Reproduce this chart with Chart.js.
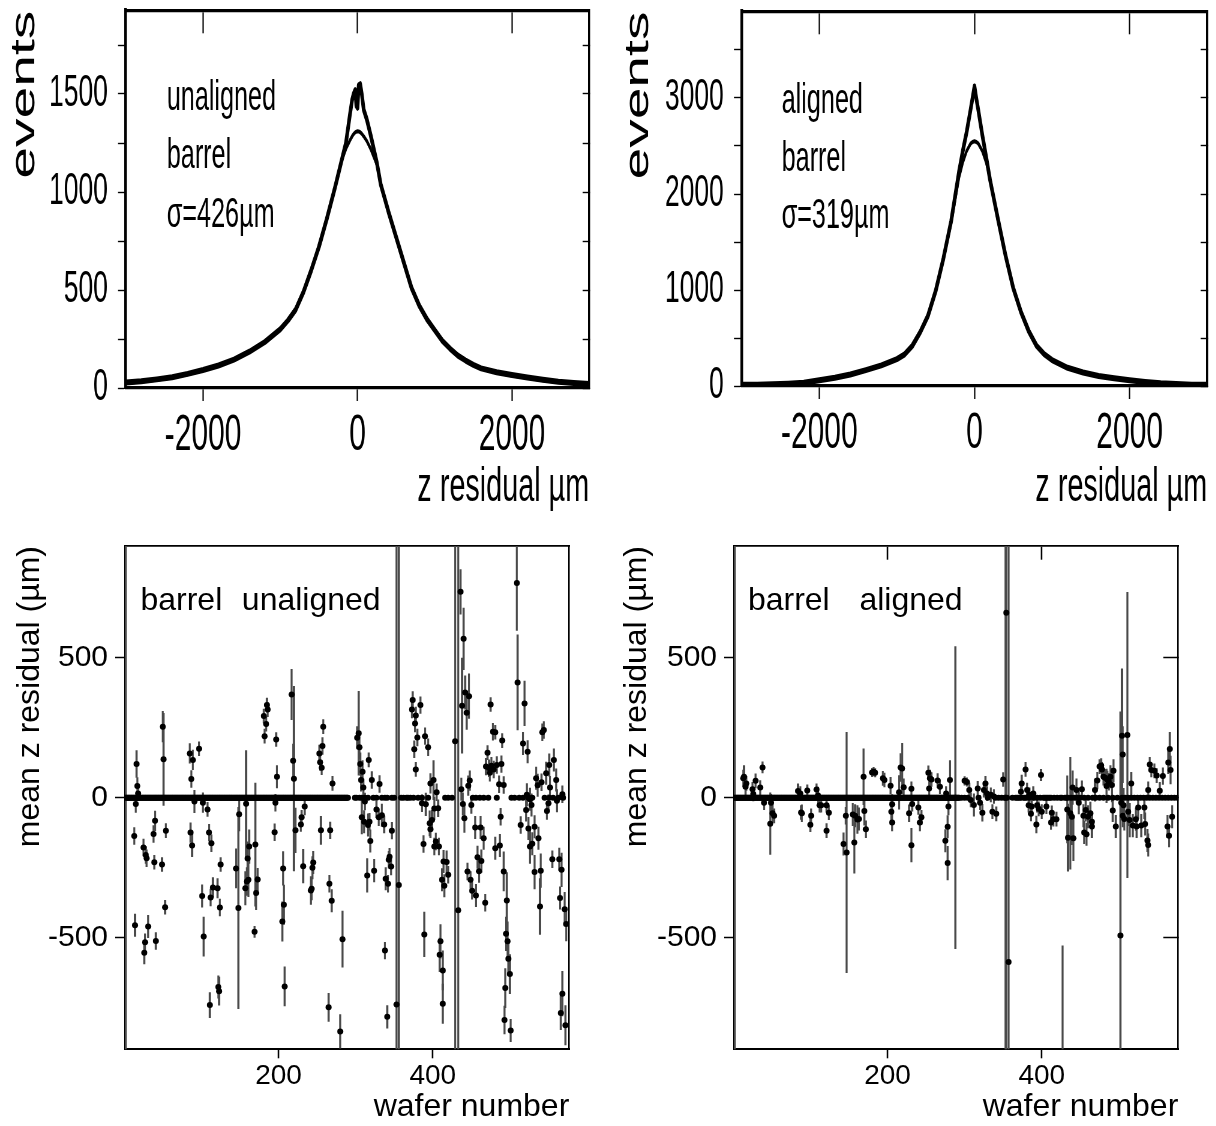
<!DOCTYPE html>
<html>
<head>
<meta charset="utf-8">
<title>z residuals, barrel wafers</title>
<script src="https://cdn.jsdelivr.net/npm/chart.js@4.4.1/dist/chart.umd.min.js"></script>
<style>
  html, body { margin: 0; padding: 0; background: #fff; overflow: hidden; }
  .panel { position: absolute; }
  /* the top histograms are squeezed sideways in the original figure */
  .narrow { transform: scaleX(0.6); transform-origin: 0 0; }
</style>
</head>
<body>
<div class="panel narrow" style="left:0;top:0;width:1000px;height:520px"><canvas id="histUnaligned"></canvas></div>
<div class="panel narrow" style="left:600px;top:0;width:1027px;height:520px"><canvas id="histAligned"></canvas></div>
<div class="panel" style="left:0;top:520px;width:600px;height:606px"><canvas id="wafersUnaligned"></canvas></div>
<div class="panel" style="left:600px;top:520px;width:616px;height:606px"><canvas id="wafersAligned"></canvas></div>
<script>
// ---------- top row: z residual distributions ----------
const unalignedZ = [-3000, -2800, -2600, -2400, -2200, -2000, -1800, -1600, -1400, -1200,
  -1000, -900, -800, -700, -600, -500, -400, -300, -200, -150,
  -100, -70, -50, -30, -15, 0, 15, 35, 55, 80,
  120, 170, 250, 300, 400, 500, 600, 700, 800, 900,
  1000, 1100, 1200, 1300, 1400, 1500, 1600, 1800, 2000, 2200,
  2400, 2600, 2800, 3000];
const unalignedEvents = [28, 34, 44, 55, 72, 92, 115, 145, 185, 235,
  300, 345, 400, 490, 600, 720, 860, 1010, 1170, 1250,
  1390, 1470, 1500, 1520, 1440, 1430, 1545, 1550, 1500, 1420,
  1370, 1290, 1150, 1040, 900, 770, 640, 510, 420, 350,
  295, 240, 200, 165, 140, 118, 100, 80, 66, 54,
  42, 32, 25, 20];
const unalignedFit = [26, 33, 42, 54, 70, 90, 115, 145, 185, 235,
  300, 348, 405, 495, 605, 725, 865, 1010, 1165, 1220,
  1262, 1284, 1296, 1304, 1308, 1310, 1309, 1305, 1297, 1284,
  1260, 1220, 1140, 1040, 895, 765, 635, 510, 420, 352,
  298, 244, 203, 168, 140, 117, 100, 79, 64, 52,
  40, 31, 24, 20];

const alignedZ = [-3000, -2800, -2600, -2400, -2200, -2000, -1800, -1600, -1400, -1200,
  -1000, -900, -800, -700, -600, -500, -400, -300, -200, -150,
  -100, -50, -25, 0, 25, 50, 100, 150, 200, 300,
  400, 500, 600, 700, 800, 900, 1000, 1200, 1400, 1600,
  1800, 2000, 2200, 2400, 2600, 2800, 3000];
const alignedEvents = [12, 14, 18, 24, 34, 60, 85, 120, 165, 215,
  280, 330, 420, 560, 730, 990, 1330, 1720, 2230, 2450,
  2650, 2880, 3000, 3120, 2990, 2870, 2620, 2390, 2150, 1750,
  1360, 1020, 770, 570, 420, 330, 270, 190, 140, 105,
  80, 60, 42, 28, 20, 14, 12];
const alignedFit = [12, 14, 18, 24, 34, 58, 83, 118, 163, 213,
  280, 335, 425, 565, 735, 990, 1320, 1700, 2170, 2330,
  2450, 2525, 2542, 2550, 2542, 2525, 2450, 2330, 2170, 1730,
  1350, 1015, 765, 568, 420, 330, 268, 190, 138, 104,
  79, 59, 42, 28, 20, 14, 12];

const residualTicks = [-2000, 0, 2000];
const unalignedEventTicks = [0, 250, 500, 750, 1000, 1250, 1500, 1750];
const unalignedEventLabels = [0, 500, 1000, 1500];
const alignedEventTicks = [0, 500, 1000, 1500, 2000, 2500, 3000, 3500];
const alignedEventLabels = [0, 1000, 2000, 3000];

// ---------- bottom row: mean z residual per wafer ----------
const waferU = [16, 17, 18, 15, 50, 51, 40, 85, 89, 97, 87, 91, 102, 108,
  181, 184, 185, 186, 182, 197, 198, 196, 217, 219, 220, 253, 254, 256,
  258, 257, 270, 302, 304, 305, 306, 309, 307, 317, 310, 321, 331, 312,
  327, 330, 334, 337, 308, 311, 316, 318, 2, 353, 356, 429, 433,
  374, 373, 377, 378, 384, 380, 376, 378, 390, 394, 397, 401, 405, 402,
  399, 407, 386, 391, 396, 436, 440, 438, 442, 444, 447, 446, 448, 437,
  439, 441, 450, 475, 478, 481, 490, 471, 469, 473, 474, 476, 479, 483,
  489, 486, 492, 488, 509, 510, 519, 517, 523, 522, 514, 521, 526, 528,
  534, 536, 541, 544, 542, 551, 557, 547, 552, 560, 550, 561, 568, 548,
  524, 532, 13, 14, 25, 28, 29, 38, 39, 49, 54, 53, 26, 27,
  31, 41, 86, 88, 101, 103, 110, 113, 112, 115, 121, 124, 125, 122,
  123, 111, 145, 148, 149, 160, 162, 157, 159, 161, 169, 170, 171, 173,
  195, 206, 207, 205, 208, 222, 229, 230, 232, 245, 244, 242, 243, 255,
  267, 266, 269, 265, 283, 280, 319, 315, 324, 339, 342, 344, 346, 347,
  343, 338, 341, 388, 389, 402, 404, 408, 397, 414, 418, 412, 415, 420,
  410, 409, 413, 413, 463, 445, 449, 451, 456, 455, 462, 466, 458, 460,
  468, 481, 487, 492, 496, 495, 497, 498, 500, 494, 493, 501, 526, 537,
  529, 532, 539, 540, 555, 564, 567, 565, 571, 573, 568, 566, 572,
  234, 158];
const meanU = [120, 42, 15, -23, 254, 137, -83, 158, 135, 175, 67, -14, -18, -42,
  292, 263, 331, 315, 220, 208, 75, -18, 369, 132, 68, 158, 127, 107,
  254, 185, 51, 214, 230, 180, 120, 93, 63, 135, 36, 63, 49, -14,
  -42, -70, -63, -96, -70, -86, -98, -86, 0, -740, -312, 202, -403,
  349, 315, 265, 294, 331, 215, 173, 101, 220, 180, 51, 63, 19, -39,
  -80, -38, -20, -24, -92, 736, 568, 329, 376, 304, 363, 43, 61, 30,
  -23, -74, -26, 333, 236, 234, 204, 161, 111, 105, 89, 114, 101, 117,
  120, 48, 45, -68, 768, 412, 337, 194, 164, 10, -98, -44, -6, -26,
  69, 44, 55, 242, 234, 117, 135, 87, 36, 63, -20, -11, 12, -48,
  -110, -104, -137, -456, -178, -205, -217, -130, -231, -239, -118, -392, -555, -517,
  -461, -513, -125, -171, -352, -497, -125, -163, -357, -321, -324, -393, -239, -677,
  -692, -742, -253, -395, -59, -218, -175, -324, -300, -294, -480, -168, -341, -293,
  -124, -253, -383, -443, -675, -117, -96, -70, -245, -232, -251, -332, -326, -117,
  -117, -308, -369, -750, -506, -836, -155, -278, -261, -290, -308, -211, -246, -118,
  -222, -547, -784, -166, -489, -175, -157, -175, -113, -228, -230, -294, -315, -276,
  -514, -562, -618, -737, -227, -264, -294, -333, -350, -107, -107, -145, -213, -263,
  -376, -181, -171, -264, -368, -487, -514, -576, -631, -681, -795, -833, -175, -145,
  -165, -266, -389, -261, -220, -220, -258, -359, -399, -452, -701, -770, -814,
  -32, -22];
const errU = [48, 30, 25, 30, 55, 165, 35, 35, 35, 25, 30, 40, 35, 25,
  25, 25, 25, 25, 25, 25, 40, 30, 90, 60, 330, 30, 30, 25,
  25, 30, 25, 40, 150, 40, 40, 40, 40, 25, 30, 30, 30, 30,
  30, 30, 40, 30, 60, 40, 40, 30, 2000, 2000, 2000, 2000, 2000,
  30, 30, 30, 30, 30, 30, 30, 25, 30, 30, 35, 70, 30, 40,
  35, 30, 30, 40, 45, 80, 110, 170, 60, 60, 80, 35, 35, 40,
  40, 50, 30, 25, 30, 25, 25, 25, 30, 30, 30, 30, 30, 30,
  30, 30, 30, 30, 170, 170, 80, 40, 40, 40, 30, 40, 40, 40,
  40, 40, 30, 30, 30, 40, 40, 40, 40, 40, 30, 40, 30, 30,
  40, 40, 30, 40, 30, 30, 30, 30, 25, 25, 25, 25, 40, 30,
  40, 30, 35, 40, 40, 70, 30, 30, 30, 35, 35, 30, 25, 40,
  50, 45, 70, 360, 60, 60, 60, 60, 50, 60, 20, 220, 60, 40,
  30, 60, 70, 70, 70, 80, 25, 25, 60, 40, 40, 50, 40, 50,
  30, 30, 40, 50, 100, 60, 40, 60, 40, 40, 30, 30, 30, 30,
  30, 30, 40, 30, 80, 30, 30, 30, 30, 40, 40, 40, 40, 30,
  60, 60, 70, 70, 40, 30, 30, 30, 40, 40, 40, 40, 40, 40,
  30, 40, 40, 70, 100, 60, 70, 60, 70, 70, 50, 40, 60, 40,
  40, 60, 100, 60, 30, 40, 60, 40, 60, 60, 80, 60, 70,
  30, 190];
// wafers sitting on the zero line (no entries): continuous runs and isolated ones
const zeroRunsU = [[3, 290]];
const zeroDotsU = [299, 301, 305, 308, 312, 316, 323, 327, 334, 338, 341, 347, 350, 359, 362, 366, 368, 371,
  375, 381, 386, 394, 416, 420, 425, 452, 456, 461, 466, 472, 483, 502, 506, 512, 517, 524, 529,
  545, 551, 556, 563, 569];

const waferA = [13, 14, 16, 17, 25, 26, 29, 35, 38, 40, 49, 51, 53, 48,
  84, 87, 96, 89, 100, 108, 110, 112, 114, 121, 124, 146, 155, 158,
  161, 169, 170, 180, 182, 184, 194, 196, 204, 206, 205, 217, 219, 215,
  221, 231, 232, 228, 240, 244, 242, 253, 255, 254, 257, 265, 268, 276,
  281, 279, 300, 303, 306, 308, 312, 317, 320, 323, 327, 325, 329, 334,
  338, 336, 341, 350, 354, 357, 379, 374, 373, 381, 384, 389, 383, 387,
  399, 394, 396, 406, 413, 415, 386, 393, 440, 433, 437, 439, 445, 452,
  448, 454, 457, 460, 463, 465, 469, 472, 475, 477, 478, 480, 482, 484,
  485, 487, 491, 493, 489, 492, 503, 505, 504, 511, 506, 516, 512, 514,
  522, 525, 533, 538, 540, 542, 546, 549, 553, 557, 564, 566, 567, 278,
  275, 278, 231, 206, 172, 157, 163, 143, 147, 121, 101, 88,
  400, 412, 419, 434, 441, 455, 458, 465, 496, 505, 507, 518, 523, 529,
  534, 537, 538, 563, 565, 569, 288, 502, 427, 2, 353];
const meanA = [69, 75, 39, 51, 30, 13, 60, 36, 108, -18, -18, -56, -65, -93,
  24, 15, 26, -56, -97, 29, 8, -27, -27, -27, -54, -65, -60, -65,
  -78, 75, -48, 90, 93, 89, 69, 63, 43, -24, -50, 108, 104, 19,
  37, 32, -23, -56, -35, -70, -89, 89, 69, 33, 65, 61, 39, 15,
  63, -32, 60, 56, 27, -8, -26, 33, -18, -54, 51, 27, 15, 10,
  4, -50, -58, 65, 661, -588, 101, 51, 21, 27, 10, 15, -27, -32,
  81, -27, -40, -32, -54, -77, -58, -96, 36, -42, -56, -68, 27, 30,
  -18, -65, -44, -68, -56, -86, 27, 61, 111, 115, 101, 75, 71, 42,
  65, 57, 45, 96, 75, -46, -18, 154, 221, 224, -27, 51, -50, -80,
  -77, -35, -35, 27, 119, 99, 96, 79, 25, 77, 126, 174, 99, -234,
  -154, -104, -170, -89, -113, -160, -76, -166, -196, -118, -65, -53,
  -50, -89, -77, -143, -145, -125, -131, -103, -103, -65, -76, -100, -103, -100,
  -94, -153, -169, -103, -136, -68, 0, -493, -1200, 0, 0];
const errA = [30, 40, 30, 25, 25, 25, 25, 25, 20, 25, 30, 30, 25, 110,
  25, 25, 20, 30, 25, 20, 30, 25, 25, 25, 25, 30, 40, 40,
  50, 100, 50, 15, 15, 15, 25, 25, 30, 35, 35, 50, 90, 60,
  30, 25, 25, 30, 25, 25, 30, 25, 30, 30, 25, 25, 25, 25,
  70, 30, 15, 15, 25, 25, 40, 25, 25, 30, 25, 25, 25, 25,
  25, 25, 25, 25, 2000, 2000, 25, 30, 30, 25, 25, 25, 25, 25,
  20, 25, 25, 25, 25, 25, 25, 30, 60, 120, 200, 100, 40, 30,
  40, 40, 40, 40, 40, 30, 40, 30, 25, 25, 25, 30, 30, 60,
  30, 30, 60, 40, 40, 40, 60, 100, 240, 510, 60, 40, 50, 60,
  40, 40, 40, 30, 25, 25, 25, 25, 30, 30, 40, 60, 50, 60,
  40, 40, 60, 30, 30, 110, 40, 40, 430, 25, 25, 25,
  25, 25, 25, 120, 80, 40, 40, 40, 40, 40, 40, 40, 40, 40,
  40, 40, 40, 40, 40, 40, 540, 800, 670, 2000, 2000];
const zeroRunsA = [[3, 293]];
const zeroDotsA = [296, 300, 304, 318, 330, 340, 344, 348, 352, 355, 362, 366, 368, 370, 372, 376, 378, 380,
  384, 390, 394, 398, 402, 404, 406, 408, 410, 412, 416, 420, 424, 426, 430, 432, 434, 438, 442, 446,
  450, 455, 460, 466, 470, 475, 480, 486, 492, 498, 504, 508, 512, 516, 520, 524, 528, 532, 536, 540,
  544, 548, 552, 556, 560, 564, 568, 572, 576];

const waferTicks = [200, 400];
const meanTicks = [-500, 0, 500];

const FAMILY = '"Liberation Sans", Arial, Helvetica, sans-serif';
Chart.defaults.color = "#000";
Chart.defaults.font.family = FAMILY;

// small plugin that writes the panel captions at data positions
function captions(items, size) {
  return {
    id: "captions",
    afterDatasetsDraw(chart) {
      const ctx = chart.ctx;
      ctx.save();
      ctx.font = size + "px " + FAMILY;
      ctx.fillStyle = "#000";
      ctx.textAlign = "left";
      ctx.textBaseline = "alphabetic";
      items.forEach((it) => {
        ctx.fillText(it.text, chart.scales.x.getPixelForValue(it.x), chart.scales.y.getPixelForValue(it.y));
      });
      ctx.restore();
    },
  };
}

function tickList(values) {
  return (scale) => { scale.ticks = values.map((v) => ({ value: v })); };
}

// pin an axis box to a fixed size and stop label overhang from moving the plot area
function pinSize(key, size) {
  return (s) => {
    s[key] = size;
    s.paddingTop = 0; s.paddingBottom = 0; s.paddingLeft = 0; s.paddingRight = 0;
  };
}

// top row histogram with its fit
function histChart(id, zs, events, fit, yMax, yTicks, yLabels, g, texts) {
  return new Chart(document.getElementById(id), {
    type: "line",
    data: {
      datasets: [
        { data: zs.map((z, i) => ({ x: z, y: events[i] })), borderColor: "#000", borderWidth: 6, pointRadius: 0, borderJoinStyle: "round" },
        { data: zs.map((z, i) => ({ x: z, y: fit[i] })), borderColor: "#000", borderWidth: 4, pointRadius: 0, borderJoinStyle: "round" },
      ],
    },
    options: {
      responsive: true,
      maintainAspectRatio: false,
      animation: false,
      events: [],
      layout: { padding: { left: 0, right: g.right, top: g.top, bottom: 0 } },
      plugins: { legend: { display: false }, tooltip: { enabled: false } },
      scales: {
        x: {
          type: "linear", min: -3000, max: 3000,
          afterBuildTicks: tickList(residualTicks),
          afterFit: pinSize("height", g.xHeight),
          ticks: { autoSkip: false, maxRotation: 0, padding: 5, font: { size: 50 }, callback: (v) => String(v) },
          grid: { drawOnChartArea: false, tickLength: 13, tickColor: "#000", tickWidth: 2.2 },
          border: { color: "#000", width: 3.3 },
          title: { display: true, text: "z residual µm", align: "end", font: { size: 48 }, padding: { top: 0, bottom: 3 } },
        },
        // frame along the top, pinned to the top of the y range so its ticks point down into the plot
        xTop: {
          type: "linear", axis: "x", position: { y: yMax }, min: -3000, max: 3000,
          afterBuildTicks: tickList(residualTicks),
          afterFit: pinSize("height", 0),
          ticks: { display: false },
          grid: { drawOnChartArea: false, tickLength: 21, tickColor: "#000", tickWidth: 2.2 },
          border: { color: "#000", width: 3.3 },
        },
        y: {
          type: "linear", min: 0, max: yMax,
          afterBuildTicks: tickList(yTicks),
          afterFit: pinSize("width", g.yWidth),
          ticks: { autoSkip: false, padding: 17, font: { size: 44 }, callback: (v) => (yLabels.includes(v) ? String(v) : "") },
          grid: { drawOnChartArea: false, tickLength: 13, tickColor: "#000", tickWidth: 1.4 },
          border: { color: "#000", width: 4.5 },
          title: { display: true, text: "events", align: "end", font: { size: 57 }, padding: { top: g.titlePad, bottom: 0 } },
        },
        yRight: {
          type: "linear", position: "right", min: 0, max: yMax,
          afterBuildTicks: tickList(yTicks),
          afterFit: pinSize("width", 0),
          ticks: { display: false },
          grid: { drawOnChartArea: false, tickLength: -11, tickColor: "#000", tickWidth: 1.4 },
          border: { color: "#000", width: 3.5 },
        },
      },
    },
    plugins: [captions(texts, 42)],
  });
}

// bottom row: mean residual per wafer with error bars
function waferChart(id, wafers, means, errs, runs, dots, g, texts) {
  const zeros = [];
  runs.forEach(([a, b]) => { for (let w = a; w <= b; w++) zeros.push({ x: w, y: 0 }); });
  dots.forEach((w) => zeros.push({ x: w, y: 0 }));
  const tickW = g.mirror ? 1.5 : 0;
  return new Chart(document.getElementById(id), {
    type: "scatter",
    data: {
      datasets: [
        {
          type: "bar",
          data: wafers.map((w, i) => ({ x: w, y: [means[i] - errs[i], means[i] + errs[i]] })),
          backgroundColor: "#4a4a4a", barThickness: 1.4, grouped: false, clip: 0, order: 3,
        },
        { data: zeros, pointRadius: 3, pointBorderWidth: 0, backgroundColor: "#000", clip: 0, order: 2 },
        { data: wafers.map((w, i) => ({ x: w, y: means[i] })), pointRadius: 3, pointBorderWidth: 0, backgroundColor: "#000", clip: 0, order: 1 },
      ],
    },
    options: {
      responsive: true,
      maintainAspectRatio: false,
      animation: false,
      events: [],
      layout: { padding: { left: 0, right: g.right, top: 26, bottom: 0 } },
      plugins: { legend: { display: false }, tooltip: { enabled: false } },
      scales: {
        x: {
          type: "linear", min: 1, max: 577, offset: false,
          afterBuildTicks: tickList(waferTicks),
          afterFit: pinSize("height", 76.7),
          ticks: { autoSkip: false, maxRotation: 0, padding: 1.6, font: { size: 28 }, callback: (v) => String(v) },
          grid: { drawOnChartArea: false, offset: false, tickLength: 9, tickColor: "#000", tickWidth: 1.5 },
          border: { color: "#000", width: 2 },
          title: { display: true, text: "wafer number", align: "end", font: { size: 32 }, padding: { top: 0, bottom: 0 } },
        },
        xTop: {
          type: "linear", axis: "x", position: { y: 900 }, min: 1, max: 577, offset: false,
          afterBuildTicks: tickList(waferTicks),
          afterFit: pinSize("height", 0),
          ticks: { display: false },
          grid: { drawOnChartArea: false, offset: false, drawTicks: g.mirror, tickLength: 13, tickColor: "#000", tickWidth: tickW },
          border: { color: "#000", width: 1.7 },
        },
        y: {
          type: "linear", min: -900, max: 900,
          afterBuildTicks: tickList(meanTicks),
          afterFit: pinSize("width", g.yWidth),
          ticks: { autoSkip: false, padding: 7, font: { size: 30 }, callback: (v) => String(v) },
          grid: { drawOnChartArea: false, tickLength: 10, tickColor: "#000", tickWidth: 1.5 },
          border: { color: "#000", width: 2 },
          title: { display: true, text: "mean z residual (µm)", align: "end", font: { size: 32 }, padding: { top: g.titlePad, bottom: 0 } },
        },
        yRight: {
          type: "linear", position: "right", min: -900, max: 900,
          afterBuildTicks: tickList(meanTicks),
          afterFit: pinSize("width", 0),
          ticks: { display: false },
          grid: { drawOnChartArea: false, drawTicks: g.mirror, tickLength: -15, tickColor: "#000", tickWidth: tickW },
          border: { color: "#000", width: 1.7 },
        },
      },
    },
    plugins: [captions(texts, 32)],
  });
}

histChart("histUnaligned", unalignedZ, unalignedEvents, unalignedFit, 1925,
  unalignedEventTicks, unalignedEventLabels,
  { yWidth: 209.7, right: 18, top: 10.7, xHeight: 132, titlePad: 6.6 },
  [
    { text: "unaligned", x: -2470, y: 1418 },
    { text: "barrel", x: -2470, y: 1121 },
    { text: "σ=426µm", x: -2470, y: 823 },
  ]);

histChart("histAligned", alignedZ, alignedEvents, alignedFit, 3900,
  alignedEventTicks, alignedEventLabels,
  { yWidth: 236.2, right: 15, top: 11.6, xHeight: 134, titlePad: 30 },
  [
    { text: "aligned", x: -2486, y: 2841 },
    { text: "barrel", x: -2486, y: 2240 },
    { text: "σ=319µm", x: -2486, y: 1646 },
  ]);

waferChart("wafersUnaligned", waferU, meanU, errU, zeroRunsU, zeroDotsU,
  { yWidth: 125, right: 30.7, titlePad: 11, mirror: false },
  [
    { text: "barrel", x: 21, y: 670 },
    { text: "unaligned", x: 152.5, y: 670 },
  ]);

waferChart("wafersAligned", waferA, meanA, errA, zeroRunsA, zeroDotsA,
  { yWidth: 134, right: 37.7, titlePad: 18, mirror: true },
  [
    { text: "barrel", x: 19, y: 670 },
    { text: "aligned", x: 163.6, y: 670 },
  ]);
</script>
</body>
</html>
